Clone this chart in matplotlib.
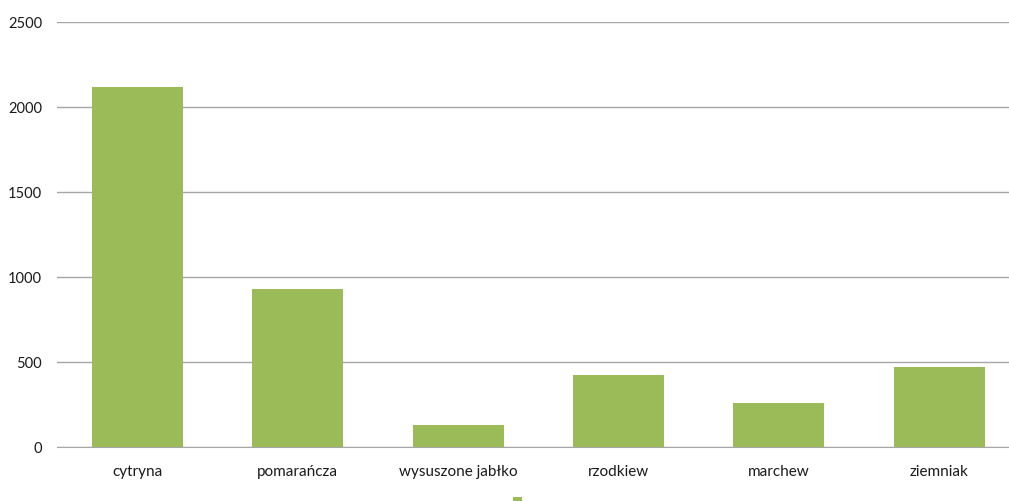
import matplotlib.pyplot as plt

categories = ['cytryna', 'pomarańcza', 'wysuszone jabłko', 'rzodkiew', 'marchew', 'ziemniak']
values = [2120, 930, 130, 425, 260, 470]

plt.rcParams['font.family'] = ['Lato', 'DejaVu Sans']

fig = plt.figure(figsize=(10.09, 5.02), dpi=100)
ax = fig.add_axes([0.0568, 0.1076, 0.9535, 0.8466])

bars = ax.bar(categories, values, width=0.567, color='#9BBB59', zorder=3)

ax.set_ylim(0, 2500)
ax.set_xlim(-0.5, len(categories) - 0.5)
ax.set_yticks(range(0, 2501, 500))
ax.yaxis.grid(True, color='#A6A6A6', linewidth=1)
for s in ['top', 'right', 'left']:
    ax.spines[s].set_visible(False)
ax.spines['bottom'].set_color('#A6A6A6')
ax.tick_params(length=0, labelsize=11, colors='#1a1a1a')
ax.tick_params(axis='y', labelsize=10.5, pad=11)
ax.tick_params(axis='x', pad=12)

fig.legend([bars], [''], loc='center', bbox_to_anchor=(0.513, -0.002),
           frameon=False, handlelength=0.6, handleheight=0.6, handletextpad=0)

fig.savefig('out.png', dpi=100)
